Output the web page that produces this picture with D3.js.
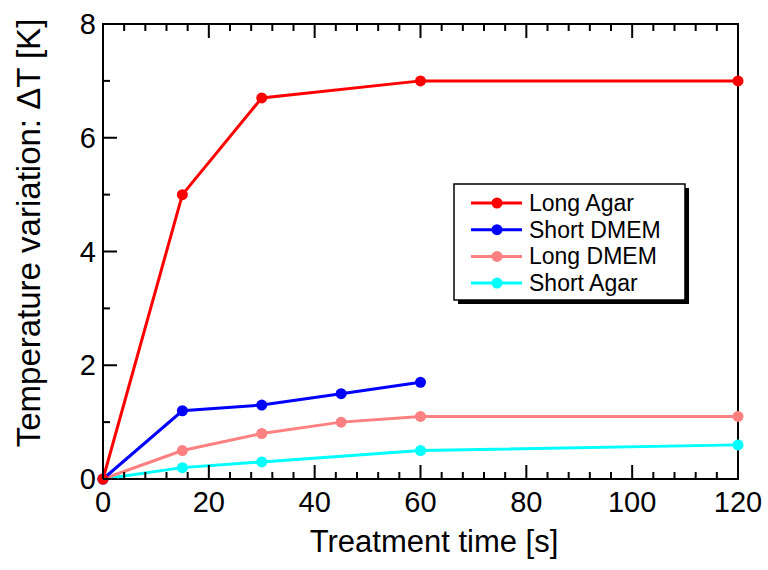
<!DOCTYPE html>
<html>
<head>
<meta charset="utf-8">
<script src="https://cdn.jsdelivr.net/npm/d3@7"></script>
<style>
  body { margin: 0; background: #fff; }
  text { font-family: "Liberation Sans", Arial, sans-serif; }
</style>
</head>
<body>
<div id="chart"></div>
<script>
// data
var seriesNames = ["Long Agar", "Short DMEM", "Long DMEM", "Short Agar"];
var seriesColors = ["#ff0000", "#0000ff", "#ff8080", "#00ffff"];
var longAgar   = [[0, 0], [15, 5], [30, 6.7], [60, 7], [120, 7]];
var shortDMEM  = [[0, 0], [15, 1.2], [30, 1.3], [45, 1.5], [60, 1.7]];
var longDMEM   = [[0, 0], [15, 0.5], [30, 0.8], [45, 1.0], [60, 1.1], [120, 1.1]];
var shortAgar  = [[0, 0], [15, 0.2], [30, 0.3], [60, 0.5], [120, 0.6]];
var seriesData = [longAgar, shortDMEM, longDMEM, shortAgar];
var xTicks = [0, 20, 40, 60, 80, 100, 120];
var xMinor = d3.range(0, 121, 4);
var yTicks = [0, 2, 4, 6, 8];
var yMinor = d3.range(0, 9, 1);

var width = 768, height = 570;
var margin = {left: 103, right: 30, top: 24, bottom: 91};

var svg = d3.select("#chart").append("svg")
    .attr("width", width)
    .attr("height", height);

var x = d3.scaleLinear().domain([0, 120]).range([margin.left, width - margin.right]);
var y = d3.scaleLinear().domain([0, 8]).range([height - margin.bottom, margin.top]);

var xl = x(0), xr = x(120), yb = y(0), yt = y(8);

// frame
svg.append("path")
    .attr("d", "M" + xl + "," + yt + "H" + xr + "V" + yb + "H" + xl + "Z")
    .attr("fill", "none").attr("stroke", "#000").attr("stroke-width", 2);

// tick labels
svg.selectAll(".xlab").data(xTicks).enter().append("text")
    .attr("class", "xlab")
    .attr("x", function(d) { return x(d); })
    .attr("y", yb + 33)
    .attr("text-anchor", "middle")
    .attr("font-size", 29)
    .text(function(d) { return d; });

svg.selectAll(".ylab").data(yTicks).enter().append("text")
    .attr("class", "ylab")
    .attr("x", xl - 7)
    .attr("y", function(d) { return y(d) + 10; })
    .attr("text-anchor", "end")
    .attr("font-size", 29)
    .text(function(d) { return d; });

// axis titles
svg.append("text")
    .attr("x", 434)
    .attr("y", 552)
    .attr("text-anchor", "middle")
    .attr("font-size", 31)
    .text("Treatment time [s]");

svg.append("text")
    .attr("transform", "translate(40,233) rotate(-90)")
    .attr("text-anchor", "middle")
    .attr("font-size", 33)
    .text("Temperature variation: \u0394T [K]");

// lines, drawn last series first so red sits on top
var line = d3.line()
    .x(function(d) { return x(d[0]); })
    .y(function(d) { return y(d[1]); });

for (var i = seriesData.length - 1; i >= 0; i--) {
    var g = svg.append("g");
    g.append("path")
        .attr("d", line(seriesData[i]))
        .attr("fill", "none")
        .attr("stroke", seriesColors[i])
        .attr("stroke-width", 3);
    g.selectAll("circle").data(seriesData[i]).enter().append("circle")
        .attr("cx", function(d) { return x(d[0]); })
        .attr("cy", function(d) { return y(d[1]); })
        .attr("r", 5.5)
        .attr("fill", seriesColors[i]);
}

// legend
var lg = svg.append("g").attr("transform", "translate(454,184)");
lg.append("rect").attr("x", 4).attr("y", 4).attr("width", 231).attr("height", 116).attr("fill", "#000");
lg.append("rect").attr("x", 0).attr("y", 0).attr("width", 231).attr("height", 116)
    .attr("fill", "#fff").attr("stroke", "#000").attr("stroke-width", 1.5);

seriesNames.forEach(function(name, i) {
    var yy = 19 + i * 26.7;
    lg.append("line").attr("x1", 17).attr("x2", 68).attr("y1", yy).attr("y2", yy)
        .attr("stroke", seriesColors[i]).attr("stroke-width", 3);
    lg.append("circle").attr("cx", 43).attr("cy", yy).attr("r", 5.5).attr("fill", seriesColors[i]);
    lg.append("text").attr("x", 75).attr("y", yy + 8).attr("font-size", 23).text(name);
});

// inward ticks, drawn last on top of everything
var tickG = svg.append("g");
xMinor.forEach(function(v) {
    var len = xTicks.indexOf(v) >= 0 ? 14 : 7;
    tickG.append("line")
        .attr("x1", x(v)).attr("x2", x(v)).attr("y1", yb).attr("y2", yb - len)
        .attr("stroke", "#000").attr("stroke-width", 2);
    tickG.append("line")
        .attr("x1", x(v)).attr("x2", x(v)).attr("y1", yt).attr("y2", yt + len)
        .attr("stroke", "#000").attr("stroke-width", 2);
});
yMinor.forEach(function(v) {
    var len = yTicks.indexOf(v) >= 0 ? 14 : 7;
    tickG.append("line")
        .attr("x1", xl).attr("x2", xl + len).attr("y1", y(v)).attr("y2", y(v))
        .attr("stroke", "#000").attr("stroke-width", 2);
});
</script>
</body>
</html>
